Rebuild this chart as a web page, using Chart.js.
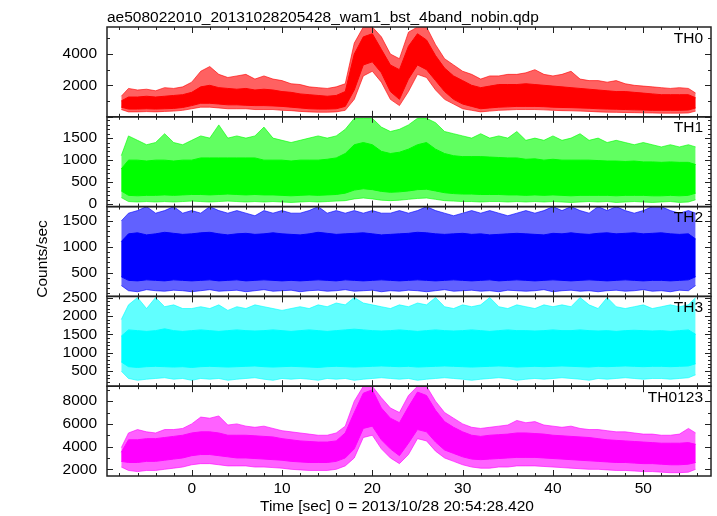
<!DOCTYPE html>
<html>
<head>
<meta charset="utf-8">
<script src="https://cdn.jsdelivr.net/npm/chart.js@4.4.1/dist/chart.umd.min.js"></script>
<style>
  html, body { margin: 0; padding: 0; background: #fff; }
  #wrap { width: 717px; height: 516px; }
</style>
</head>
<body>
<div id="wrap"><canvas id="lc" width="717" height="516"></canvas></div>
<script>
// Time bins [sec], 0 = 2013/10/28 20:54:28.420
const TIME = [-7.8, -7, -6, -5, -4, -3, -2, -1, 0, 1,
  2, 3, 4, 5, 6, 7, 8, 9, 10, 11,
  12, 13, 14, 15, 16, 17, 18, 19, 20, 21,
  22, 23, 24, 25, 26, 27, 28, 29, 30, 31,
  32, 33, 34, 35, 36, 37, 38, 39, 40, 41,
  42, 43, 44, 45, 46, 47, 48, 49, 50, 51,
  52, 53, 54, 55, 55.8];

// Counts/sec: spike extent (min/max) and dense core (lo/hi)
const TH0_MIN = [450, 300, 300, 320, 300, 330, 350, 400, 500, 600,
  600, 550, 500, 500, 500, 450, 450, 450, 400, 380,
  330, 300, 280, 280, 300, 400, 1100, 2600, 2900, 2200,
  1100, 700, 1600, 2700, 2500, 1700, 1100, 800, 500, 400,
  300, 350, 400, 420, 450, 450, 450, 430, 400, 380,
  370, 350, 330, 300, 280, 270, 260, 250, 240, 230,
  220, 220, 220, 230, 350];
const TH0_LO = [600, 480, 480, 500, 480, 500, 520, 580, 700, 850,
  850, 800, 750, 750, 720, 700, 700, 680, 650, 600,
  550, 500, 480, 480, 500, 650, 1700, 3300, 3500, 2800,
  1600, 1100, 2400, 3300, 3000, 2300, 1600, 1100, 800, 650,
  500, 550, 600, 620, 650, 650, 650, 630, 600, 580,
  570, 550, 530, 500, 480, 470, 450, 430, 420, 400,
  400, 400, 400, 420, 550];
const TH0_HI = [1000, 1250, 1250, 1300, 1250, 1300, 1350, 1400, 1550, 1900,
  2000, 1850, 1800, 1750, 1800, 1700, 1750, 1700, 1600, 1550,
  1450, 1400, 1350, 1300, 1350, 1600, 4000, 5100, 5300, 4300,
  3300, 3000, 4500, 5300, 4900, 3900, 3100, 2600, 2300, 2000,
  1850, 1950, 2050, 2050, 2050, 2100, 2050, 2000, 1950, 1900,
  1850, 1800, 1750, 1700, 1650, 1600, 1600, 1550, 1500, 1450,
  1400, 1400, 1400, 1400, 1200];
const TH0_MAX = [1300, 1800, 1700, 1750, 1650, 1850, 1800, 1900, 2200, 2900,
  3200, 2700, 2500, 2600, 2700, 2400, 2600, 2400, 2300, 2100,
  2050, 1900, 1850, 1800, 1900, 2100, 4700, 5730, 5730, 5100,
  4000, 3700, 5400, 5730, 5730, 4600, 3700, 3300, 2900, 2700,
  2400, 2600, 2600, 2700, 2700, 2800, 3000, 2700, 2600, 2700,
  2900, 2400, 2300, 2300, 2200, 2300, 2100, 2000, 1950, 1900,
  1850, 1800, 1850, 1800, 1500];

const TH1_MIN = [150, 60, 50, 60, 50, 60, 50, 60, 70, 60,
  50, 60, 70, 60, 50, 60, 50, 60, 50, 40,
  50, 60, 50, 60, 70, 80, 120, 140, 120, 90,
  80, 90, 110, 130, 140, 110, 80, 70, 60, 60,
  50, 60, 60, 50, 60, 50, 60, 50, 60, 50,
  40, 50, 60, 50, 60, 40, 50, 60, 50, 40,
  50, 60, 40, 50, 100];
const TH1_LO = [300, 200, 190, 200, 200, 210, 200, 210, 220, 220,
  210, 220, 230, 220, 210, 220, 210, 210, 200, 190,
  200, 210, 200, 210, 220, 250, 320, 350, 330, 290,
  270, 280, 300, 330, 340, 300, 260, 240, 230, 230,
  220, 220, 220, 210, 210, 200, 210, 200, 210, 200,
  190, 200, 200, 200, 200, 190, 200, 200, 200, 190,
  190, 200, 190, 200, 250];
const TH1_HI = [800, 1000, 1000, 980, 1000, 1000, 980, 1000, 1000, 1050,
  1050, 1050, 1050, 1050, 1050, 1050, 1000, 1000, 1000, 980,
  1000, 1000, 1000, 1020, 1050, 1150, 1350, 1400, 1350, 1200,
  1150, 1180, 1250, 1350, 1400, 1250, 1150, 1100, 1080, 1080,
  1080, 1070, 1060, 1050, 1050, 1020, 1030, 1000, 1020, 1000,
  1000, 1000, 1000, 990, 980, 980, 970, 980, 960, 960,
  950, 960, 950, 950, 900];
const TH1_MAX = [1100, 1550, 1450, 1350, 1400, 1600, 1400, 1350, 1450, 1550,
  1500, 1800, 1500, 1550, 1500, 1550, 1750, 1500, 1450, 1400,
  1450, 1500, 1550, 1500, 1550, 1700, 1950, 1950, 1950, 1750,
  1650, 1700, 1800, 1950, 1950, 1850, 1650, 1600, 1550, 1500,
  1600, 1500, 1550, 1500, 1650, 1450, 1500, 1450, 1550, 1450,
  1500, 1600, 1450, 1500, 1400, 1450, 1400, 1350, 1400, 1350,
  1300, 1350, 1300, 1350, 1300];

const TH2_MIN = [250, 150, 130, 170, 150, 140, 160, 150, 130, 150,
  170, 140, 150, 160, 130, 150, 170, 140, 150, 160,
  130, 150, 160, 140, 150, 170, 140, 150, 160, 130,
  150, 140, 160, 150, 130, 150, 170, 140, 150, 160,
  140, 150, 130, 160, 150, 140, 150, 170, 130, 150,
  160, 140, 150, 130, 150, 160, 140, 150, 170, 140,
  150, 130, 160, 150, 250];
const TH2_LO = [420, 350, 340, 360, 350, 340, 360, 350, 340, 350,
  360, 340, 350, 360, 340, 350, 360, 350, 340, 350,
  340, 350, 360, 350, 340, 360, 350, 340, 350, 360,
  350, 340, 350, 360, 350, 340, 350, 360, 350, 340,
  350, 360, 340, 350, 360, 350, 340, 350, 360, 350,
  340, 350, 360, 350, 340, 350, 360, 350, 340, 350,
  350, 340, 350, 360, 420];
const TH2_HI = [1100, 1250, 1270, 1230, 1250, 1280, 1260, 1240, 1250, 1270,
  1280, 1250, 1230, 1250, 1260, 1240, 1250, 1270, 1250, 1240,
  1230, 1250, 1280, 1260, 1240, 1250, 1260, 1270, 1250, 1230,
  1240, 1250, 1260, 1280, 1270, 1250, 1240, 1250, 1260, 1240,
  1250, 1230, 1240, 1250, 1260, 1250, 1240, 1230, 1260, 1250,
  1270, 1250, 1240, 1260, 1270, 1250, 1260, 1270, 1250, 1260,
  1270, 1250, 1240, 1250, 1150];
const TH2_MAX = [1500, 1650, 1700, 1777, 1650, 1700, 1777, 1650, 1700, 1650,
  1777, 1700, 1650, 1700, 1650, 1600, 1700, 1650, 1700, 1650,
  1650, 1700, 1777, 1650, 1700, 1650, 1700, 1650, 1700, 1650,
  1650, 1700, 1650, 1700, 1777, 1700, 1650, 1600, 1650, 1700,
  1650, 1700, 1650, 1600, 1650, 1700, 1650, 1700, 1777, 1700,
  1777, 1700, 1650, 1777, 1700, 1777, 1700, 1650, 1700, 1777,
  1777, 1700, 1650, 1700, 1650];

const TH3_MIN = [500, 300, 250, 280, 300, 320, 280, 300, 250, 300,
  280, 300, 250, 280, 300, 320, 280, 250, 300, 280,
  300, 280, 250, 300, 280, 300, 250, 280, 300, 320,
  300, 280, 300, 250, 280, 300, 320, 300, 280, 250,
  280, 300, 320, 300, 250, 280, 300, 280, 300, 320,
  300, 280, 250, 300, 280, 300, 320, 300, 280, 300,
  300, 280, 300, 320, 400];
const TH3_LO = [750, 620, 600, 620, 630, 620, 610, 620, 600, 620,
  630, 620, 610, 620, 630, 640, 620, 610, 620, 630,
  620, 610, 600, 620, 630, 620, 610, 620, 630, 640,
  630, 620, 630, 610, 620, 630, 640, 630, 620, 610,
  620, 630, 640, 630, 610, 620, 630, 620, 630, 640,
  630, 620, 610, 630, 620, 630, 640, 630, 620, 630,
  630, 620, 630, 640, 700];
const TH3_HI = [1450, 1620, 1600, 1580, 1600, 1650, 1600, 1580, 1600, 1620,
  1600, 1580, 1600, 1620, 1600, 1590, 1600, 1620, 1600, 1580,
  1600, 1620, 1600, 1580, 1600, 1620, 1640, 1620, 1600, 1590,
  1600, 1620, 1600, 1580, 1600, 1620, 1600, 1590, 1600, 1620,
  1600, 1580, 1600, 1620, 1600, 1600, 1590, 1600, 1620, 1600,
  1600, 1620, 1600, 1590, 1600, 1580, 1600, 1610, 1600, 1590,
  1600, 1580, 1600, 1620, 1500];
const TH3_MAX = [1900, 2300, 2500, 2200, 2500, 2250, 2300, 2200, 2200, 2250,
  2200, 2300, 2150, 2250, 2200, 2300, 2250, 2200, 2150, 2200,
  2250, 2200, 2300, 2250, 2350, 2300, 2500, 2350, 2300, 2250,
  2200, 2300, 2250, 2350, 2300, 2500, 2250, 2200, 2300, 2250,
  2300, 2500, 2250, 2200, 2300, 2250, 2200, 2300, 2250, 2300,
  2250, 2500, 2300, 2200, 2500, 2250, 2200, 2250, 2300, 2200,
  2250, 2300, 2250, 2300, 2500];

const TH0123_MIN = [2200, 1900, 1800, 1900, 1900, 2000, 2100, 2200, 2400, 2500,
  2500, 2400, 2300, 2300, 2300, 2200, 2200, 2150, 2100, 2000,
  1950, 1900, 1900, 1900, 2000, 2300, 3000, 4800, 5000, 3800,
  3000, 2500, 3300, 4700, 4500, 3600, 3000, 2700, 2400, 2200,
  2100, 2100, 2200, 2200, 2300, 2300, 2300, 2250, 2200, 2150,
  2100, 2050, 2000, 2000, 1950, 1900, 1900, 1850, 1800, 1800,
  1750, 1700, 1700, 1750, 2000];
const TH0123_LO = [2700, 2600, 2600, 2700, 2700, 2800, 2900, 3000, 3200, 3300,
  3300, 3200, 3100, 3000, 3000, 2950, 2900, 2850, 2800, 2700,
  2650, 2600, 2600, 2600, 2700, 3000, 3800, 5600, 5800, 4600,
  3800, 3200, 4300, 5500, 5300, 4400, 3700, 3400, 3100, 2900,
  2850, 2900, 2950, 3000, 3050, 3050, 3050, 3000, 2950, 2900,
  2850, 2800, 2750, 2700, 2650, 2600, 2600, 2550, 2500, 2500,
  2450, 2400, 2400, 2450, 2600];
const TH0123_HI = [3500, 4600, 4600, 4700, 4700, 4800, 4900, 5000, 5200, 5300,
  5300, 5200, 5000, 5000, 5000, 4950, 4900, 4850, 4700, 4600,
  4500, 4450, 4400, 4400, 4500, 5200, 7000, 8700, 9000, 7400,
  6500, 6100, 7500, 8800, 8500, 7200, 6200, 5700, 5300, 5000,
  4900, 5000, 5050, 5100, 5200, 5200, 5150, 5100, 5000, 4950,
  4900, 4850, 4800, 4700, 4600, 4550, 4500, 4450, 4400, 4350,
  4300, 4300, 4300, 4350, 4200];
const TH0123_MAX = [3900, 5200, 5500, 5300, 5200, 5500, 5500, 5600, 6000, 6600,
  6500, 6700, 5900, 6000, 5800, 5700, 5800, 5600, 5400, 5300,
  5200, 5100, 5000, 5000, 5200, 5800, 8000, 9310, 9310, 8300,
  7400, 7000, 8500, 9310, 9310, 8000, 7000, 6500, 6000, 5700,
  5600, 5700, 5800, 5900, 6300, 6100, 6200, 5900, 5800, 5700,
  5800, 5600, 5500, 5500, 5400, 5300, 5300, 5200, 5100, 5100,
  5000, 5000, 5100, 5600, 5200];

// tick labels
const X_TICKS = [0, 10, 20, 30, 40, 50];
const TH0_TICKS = [2000, 4000];
const TH1_TICKS = [0, 500, 1000, 1500];
const TH2_TICKS = [500, 1000, 1500];
const TH3_TICKS = [500, 1000, 1500, 2000, 2500];
const TH0123_TICKS = [2000, 4000, 6000, 8000];

const FONT = '"Liberation Sans", Arial, Helvetica, sans-serif';

const panels = [
  { id: 'y0', name: 'TH0', rgb: '255,0,0', lim: [-15, 5730], ticks: TH0_TICKS, minor: 1000,
    min: TH0_MIN, lo: TH0_LO, hi: TH0_HI, max: TH0_MAX },
  { id: 'y1', name: 'TH1', rgb: '0,255,0', lim: [-55, 1984], ticks: TH1_TICKS, minor: 100,
    min: TH1_MIN, lo: TH1_LO, hi: TH1_HI, max: TH1_MAX },
  { id: 'y2', name: 'TH2', rgb: '0,0,255', lim: [40, 1777], ticks: TH2_TICKS, minor: 100,
    min: TH2_MIN, lo: TH2_LO, hi: TH2_HI, max: TH2_MAX },
  { id: 'y3', name: 'TH3', rgb: '0,255,255', lim: [90, 2530], ticks: TH3_TICKS, minor: 100,
    min: TH3_MIN, lo: TH3_LO, hi: TH3_HI, max: TH3_MAX },
  { id: 'y4', name: 'TH0123', rgb: '255,0,255', lim: [1411, 9318], ticks: TH0123_TICKS, minor: 1000,
    min: TH0123_MIN, lo: TH0123_LO, hi: TH0123_HI, max: TH0123_MAX }
];

function pts(arr) {
  return TIME.map((t, i) => ({ x: t, y: arr[i] }));
}

// core band on top, spike envelope lighter underneath
let datasets = [];
panels.forEach(p => {
  const solid = `rgb(${p.rgb})`;
  const light = `rgba(${p.rgb},0.62)`;
  datasets.push({ data: pts(p.hi), yAxisID: p.id, fill: '+1', backgroundColor: solid,
    borderColor: solid, borderWidth: 1, pointRadius: 0, order: 0 });
  datasets.push({ data: pts(p.lo), yAxisID: p.id, fill: false,
    borderColor: solid, borderWidth: 1, pointRadius: 0, order: 0 });
  datasets.push({ data: pts(p.max), yAxisID: p.id, fill: '+1', backgroundColor: light,
    borderColor: light, borderWidth: 1, pointRadius: 0, order: 1 });
  datasets.push({ data: pts(p.min), yAxisID: p.id, fill: false,
    borderColor: light, borderWidth: 1, pointRadius: 0, order: 1 });
});

let scales = {
  x: {
    type: 'linear', position: 'bottom', min: -9.38, max: 57.5,
    grid: { display: false, drawTicks: false, tickLength: 0 }, border: { display: false },
    ticks: { color: '#000', font: { family: FONT, size: 15.5 }, padding: 3, maxRotation: 0,
      autoSkip: false, callback: v => String(v) },
    afterBuildTicks: s => { s.ticks = X_TICKS.map(v => ({ value: v })); },
    afterFit: s => { s.height = 40; }
  }
};
// stacked scales are laid out bottom-up, so the last panel goes in first
panels.slice().reverse().forEach(p => {
  scales[p.id] = {
    type: 'linear', position: 'left', stack: 'lc', stackWeight: 1,
    min: p.lim[0], max: p.lim[1],
    grid: { display: false, drawTicks: false, tickLength: 0 }, border: { display: false },
    ticks: { color: '#000', font: { family: FONT, size: 15.5 }, padding: 10,
      autoSkip: false, callback: v => String(v) },
    afterBuildTicks: s => { s.ticks = p.ticks.map(v => ({ value: v })); },
    afterFit: s => { s.width = 107; }
  };
});

// frames, inward ticks and the qdp-style texts
const framePlugin = {
  id: 'frames',
  afterDraw(chart) {
    const ctx = chart.ctx;
    const { left, right } = chart.chartArea;
    const xs = chart.scales.x;
    ctx.save();
    ctx.strokeStyle = '#222';
    ctx.fillStyle = '#000';
    ctx.lineWidth = 1;
    const seg = (x1, y1, x2, y2) => { ctx.beginPath(); ctx.moveTo(x1, y1); ctx.lineTo(x2, y2); ctx.stroke(); };
    panels.forEach(p => {
      const s = chart.scales[p.id];
      const top = s.top, bot = s.bottom;
      const major = p.ticks[1] - p.ticks[0];
      for (let v = Math.ceil(s.min / p.minor) * p.minor; v <= s.max; v += p.minor) {
        const y = Math.round(s.getPixelForValue(v)) + 0.5;
        const len = Math.round(v) % major === 0 ? 6 : 3;
        seg(left, y, left + len, y);
        seg(right, y, right - len, y);
      }
      for (let t = -8; t <= 56; t += 2) {
        const x = Math.round(xs.getPixelForValue(t)) + 0.5;
        const len = t % 10 === 0 ? 6 : 3;
        seg(x, top, x, top + len);
        seg(x, bot, x, bot - len);
      }
    });
    ctx.lineWidth = 1.5;
    panels.forEach(p => {
      const s = chart.scales[p.id];
      ctx.strokeRect(left, s.top, right - left, s.bottom - s.top);
    });
    ctx.font = `15.5px ${FONT}`;
    ctx.textBaseline = 'alphabetic';
    ctx.textAlign = 'right';
    panels.forEach(p => {
      const s = chart.scales[p.id];
      ctx.fillText(p.name, right - 8, s.top + 15.5);
    });
    ctx.textAlign = 'left';
    ctx.fillText('ae508022010_20131028205428_wam1_bst_4band_nobin.qdp', left, 21.5);
    ctx.fillText('Time [sec] 0 = 2013/10/28 20:54:28.420', 260, 511);
    ctx.translate(46.5, 259);
    ctx.rotate(-Math.PI / 2);
    ctx.textAlign = 'center';
    ctx.fillText('Counts/sec', 0, 0);
    ctx.restore();
  }
};

new Chart(document.getElementById('lc').getContext('2d'), {
  type: 'line',
  data: { datasets },
  options: {
    responsive: false,
    animation: false,
    devicePixelRatio: 1,
    layout: { padding: { left: 0, top: 27, right: 6, bottom: 0 } },
    plugins: { legend: { display: false }, tooltip: { enabled: false } },
    scales
  },
  plugins: [framePlugin]
});
</script>
</body>
</html>
